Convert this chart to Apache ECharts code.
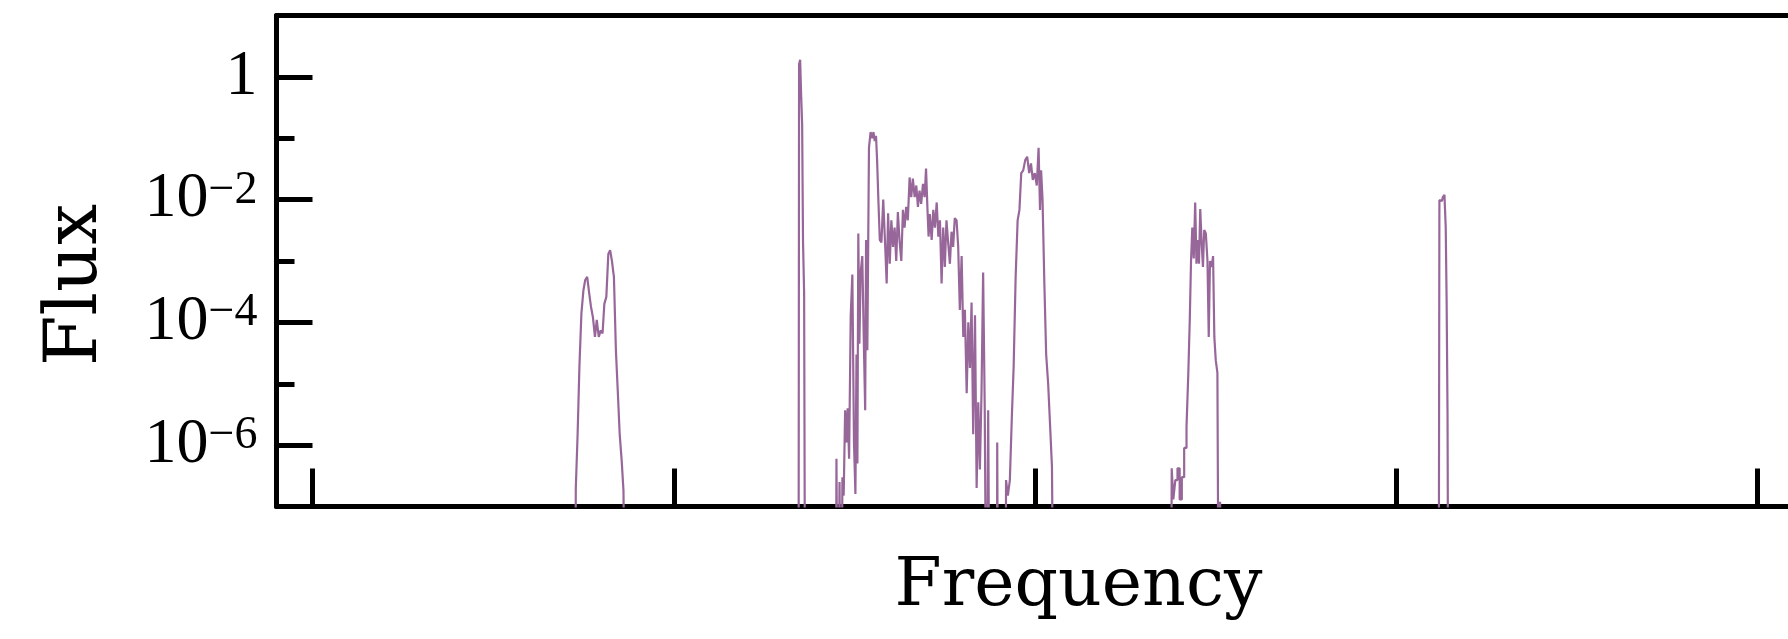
<!DOCTYPE html>
<html><head><meta charset="utf-8">
<script src="https://cdn.jsdelivr.net/npm/echarts@6/dist/echarts.min.js"></script>
<style>html,body{margin:0;padding:0;background:#fff}#c{width:1788px;height:639px}</style>
</head><body><div id="c"></div>
<script>
// ---- axis ticks (frequency axis has no labels) ----
const freqTicks = [100, 200, 300, 400, 500];
const topTicks = [250.5, 313.2, 328.0];
const fluxMajorTicks = [1e-6, 1e-4, 1e-2, 1];
const fluxMinorTicks = [1e-7, 1e-5, 1e-3, 1e-1, 10];

// ---- band A ----
const bandA_freq = [172.6,173.1,173.6,174.1,174.7,175.2,175.7,176.3,176.8,177.3,177.9,178.4,178.9,179.5,180.0,180.5,181.0,181.6,182.1,182.6,183.1,183.7,184.2,184.7,185.3,185.8,186.3,186.7];
const bandA_flux = [1e-10,2e-7,1.5e-6,1.9e-5,1.4e-4,3.3e-4,4.9e-4,5.5e-4,3e-4,1.8e-4,1.2e-4,5.8e-5,1.1e-4,5.8e-5,7.4e-5,6.6e-5,2e-4,2.6e-4,1.3e-3,1.5e-3,1e-3,5.5e-4,3.5e-5,8e-6,1.5e-6,5.6e-7,1.8e-7,1e-10];

// ---- band B (narrow line) ----
const bandB_freq = [234.5,234.8,235.1,235.4,235.6,235.9,236.2,236.5];
const bandB_flux = [1e-10,1.6,1.9,0.45,0.17,2e-3,3e-4,1e-10];

// ---- band C (broad) ----
const bandC_freq = [244.8,245.2,245.6,246.1,246.5,246.8,247.2,247.6,247.9,248.3,248.7,249.2,249.6,250.1,250.4,250.7,250.9,251.2,251.5,251.9,252.4,252.8,253.1,253.3,253.8,254.2,254.7,255.1,255.4,255.8,256.1,256.4,256.8,257.2,257.7,258.2,258.7,259.1,259.5,260.0,260.4,260.9,261.3,261.8,262.2,262.7,263.2,263.6,264.1,264.5,265.0,265.5,265.9,266.4,266.9,267.3,267.8,268.2,268.7,269.2,269.6,270.0,270.4,270.6,271.1,271.6,272.0,272.5,273.0,273.4,273.9,274.3,274.8,275.2,275.7,276.2,276.6,277.1,277.5,278.0,278.5,278.9,279.4,279.9,280.3,280.8,281.3,281.7,282.2,282.6,283.1,283.6,284.0,284.5,284.9,285.4,285.8,286.3,286.8,287.2,287.7,289.4,289.6,290.0];
const bandC_flux = [1e-10,6e-7,1e-10,2.5e-7,1e-10,3e-7,1.5e-7,3.7e-6,1.1e-6,4e-6,6e-7,1.3e-4,6e-4,1.1e-6,1.6e-7,3e-5,5e-7,2.8e-3,4.5e-5,6.5e-4,1.2e-3,4e-5,3.7e-6,2.2e-3,3.5e-5,7e-2,0.126,0.1,0.126,0.09,0.11,0.044,1e-2,2.2e-3,2e-3,1e-2,2e-3,4.3e-4,6e-3,9e-4,4.6e-3,1.7e-3,3.5e-3,1e-3,6.3e-3,2.2e-3,1e-3,6.8e-3,3.5e-3,7.6e-3,4.6e-3,2.3e-2,1.1e-2,2.2e-2,1.1e-2,1.7e-2,7.6e-3,1.4e-2,8.5e-3,1.8e-2,1.1e-2,3.2e-2,6.8e-3,2.5e-3,5.8e-3,2.2e-3,6.8e-3,3.5e-3,9e-3,2.5e-3,4.6e-3,4.3e-4,3.5e-3,8e-4,4.6e-3,1.9e-3,9e-4,3e-3,1.7e-3,5e-3,4.6e-3,1.7e-3,1.6e-4,1.2e-3,5.8e-5,1.6e-4,7e-6,1e-4,1.8e-5,2.1e-4,1.5e-6,1.3e-4,2e-7,5e-6,4e-7,7e-6,6.5e-4,3.7e-6,1e-10,3.7e-6,1e-10,1e-10,1.1e-6,1e-10];

// ---- band D ----
const bandD_freq = [291.7,292.2,292.7,293.3,293.8,294.3,294.9,295.4,295.9,296.4,297.0,297.5,298.1,298.6,299.1,299.6,300.2,300.7,301.2,301.5,301.8,302.3,302.8,303.3,303.9,304.4,304.9,305.5];
const bandD_flux = [1e-10,2.7e-7,1.5e-7,2.7e-7,2.9e-6,1.9e-5,5.5e-4,4.6e-3,6.8e-3,2.7e-2,3e-2,4.4e-2,5e-2,2.7e-2,3.9e-2,2.1e-2,2.7e-2,1.7e-2,7e-2,6.8e-3,3e-2,9.8e-3,4.3e-4,3e-5,1e-5,2e-6,4.5e-7,1e-10];

// ---- band E ----
const bandE_freq = [337.6,338.0,338.5,339.1,339.7,340.3,340.9,341.6,342.2,342.6,343.0,343.3,343.7,344.1,344.5,344.8,345.2,345.5,345.9,346.3,346.6,347.0,347.5,347.9,348.2,348.6,349.1,349.4,349.8,350.2,350.7,351.0,351.4,351.9];
const bandE_flux = [1e-10,4.2e-7,1.3e-7,2.7e-7,4.2e-7,1.3e-7,3e-7,9e-7,2e-6,1.5e-5,1.1e-4,1e-3,3.5e-3,1.1e-3,9e-3,9e-4,2.2e-3,9e-4,7e-3,1.9e-3,8e-4,3.2e-3,2.8e-3,1e-3,5.8e-5,1e-3,8e-4,1.2e-3,5.8e-5,2.4e-5,1.5e-5,1e-10,1.2e-7,1e-10];

// ---- band F ----
const bandF_freq = [411.7,412.1,412.6,413.1,413.5,413.8,414.0,414.3,414.5];
const bandF_flux = [1e-10,9.8e-3,9.5e-3,1.1e-2,1.2e-2,3.5e-3,2.3e-4,3.3e-6,1e-10];

const bands = [
  [bandA_freq, bandA_flux], [bandB_freq, bandB_flux], [bandC_freq, bandC_flux],
  [bandD_freq, bandD_flux], [bandE_freq, bandE_flux], [bandF_freq, bandF_flux]
];
function zip(f, v) { const n = Math.min(f.length, v.length); const o = []; for (let i = 0; i < n; i++) o.push([f[i], v[i]]); return o; }

const LINE = '#98679a';
const AX = { color: '#000', width: 5 };
const chart = echarts.init(document.getElementById('c'), null, { renderer: 'canvas' });

const option = {
  animation: false,
  backgroundColor: '#ffffff',
  grid: { left: 276.5, top: 15.5, width: 1604, height: 491, containLabel: false, outerBoundsMode: 'none' },
  xAxis: [
    { type: 'value', min: 90, max: 534, position: 'bottom',
      axisLine: { show: true, onZero: false, lineStyle: AX },
      axisTick: { show: true, inside: true, length: 38, customValues: freqTicks, lineStyle: AX },
      axisLabel: { show: false }, splitLine: { show: false } },
    { type: 'value', min: 90, max: 534, position: 'top',
      axisLine: { show: true, onZero: false, lineStyle: AX },
      axisTick: { show: true, inside: false, length: 2, customValues: topTicks, lineStyle: { color: '#000', width: 2 } },
      axisLabel: { show: false }, splitLine: { show: false } }
  ],
  yAxis: [
    { type: 'log', logBase: 10, min: 1e-7, max: 10, position: 'left',
      axisLine: { show: true, onZero: false, lineStyle: AX },
      axisTick: { show: true, inside: true, length: 36, customValues: fluxMajorTicks, lineStyle: AX },
      axisLabel: {
        show: true, customValues: fluxMajorTicks, margin: 19,
        fontFamily: 'Liberation Serif', fontSize: 64, color: '#000',
        formatter: function (v) {
          const e = Math.round(Math.log10(v));
          if (e === 0) return '{b|1}';
          return '{b|10}{s|' + (e < 0 ? '\u2212' : '') + Math.abs(e) + '}';
        },
        rich: {
          b: { fontFamily: 'Liberation Serif', fontSize: 64, lineHeight: 64, color: '#000' },
          s: { fontFamily: 'Liberation Serif', fontSize: 46, lineHeight: 32, verticalAlign: 'top', color: '#000' }
        }
      },
      splitLine: { show: false } },
    { type: 'log', logBase: 10, min: 1e-7, max: 10, position: 'left',
      axisLine: { show: false },
      axisTick: { show: true, inside: true, length: 18, customValues: fluxMinorTicks, lineStyle: AX },
      axisLabel: { show: false }, splitLine: { show: false } }
  ],
  graphic: [
    { type: 'text', x: 1078.5, y: 587, z: 10,
      style: { text: 'Frequency', font: '68px "DejaVu Serif"', fill: '#000', align: 'center', verticalAlign: 'middle', textAlign: 'center', textVerticalAlign: 'middle' } },
    { type: 'text', x: 77, y: 285, rotation: Math.PI / 2, z: 10,
      style: { text: 'Flux', font: '73px "DejaVu Serif"', fill: '#000', align: 'center', verticalAlign: 'middle', textAlign: 'center', textVerticalAlign: 'middle' } }
  ],
  series: bands.map(function (b) {
    return { type: 'line', step: 'middle', xAxisIndex: 0, yAxisIndex: 0, data: zip(b[0], b[1]),
      showSymbol: false, symbol: 'none', clip: true,
      lineStyle: { color: LINE, width: 2.2 }, itemStyle: { color: LINE }, z: 1 };
  })
};
chart.setOption(option);
</script></body></html>
